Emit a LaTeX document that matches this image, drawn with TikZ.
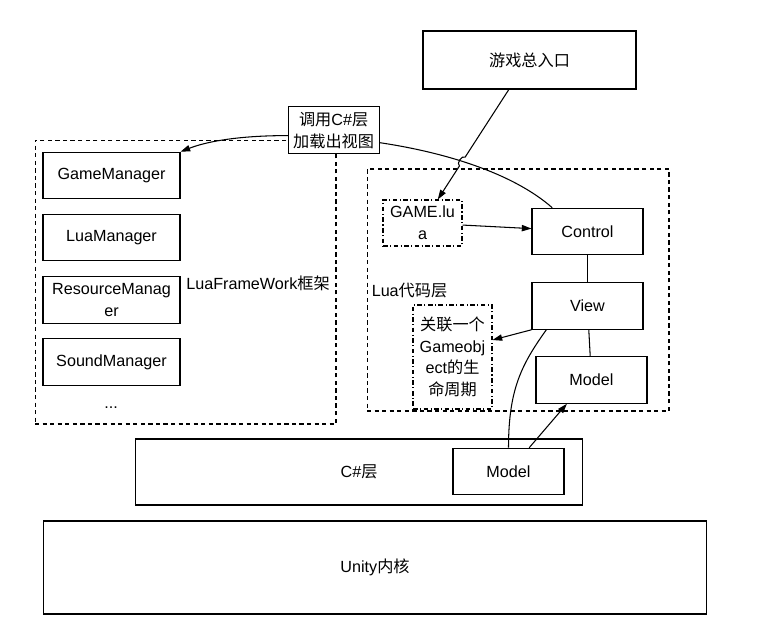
\documentclass[tikz,border=0pt]{standalone}
\usepackage{fontspec}
\setmainfont{Liberation Sans}
\newfontfamily\cjk{Noto Sans CJK SC}
\usetikzlibrary{arrows.meta, calc}

\begin{document}
\begin{tikzpicture}[
  x=0.02cm, y=-0.02cm,
  font=\fontsize{9.2pt}{12.3pt}\selectfont,
  box/.style = {
    rectangle, draw, line width=0.6pt,
    align=center, inner sep=1pt,
    minimum width=2.22cm, minimum height=0.93cm
  },
  mgr/.style = {box, minimum width=2.74cm},
  luabox/.style = {
    rectangle, draw, line width=0.6pt,
    align=center, inner sep=1pt,
    dash pattern=on 2.6pt off 1.4pt on 0.6pt off 1.4pt
  },
  zone/.style = {
    rectangle, draw, line width=0.6pt,
    dash pattern=on 2.4pt off 1.9pt
  },
  callout/.style = {
    rectangle, draw, fill=white, line width=0.6pt,
    align=center, inner sep=1pt,
    minimum width=1.82cm, minimum height=0.94cm
  },
  arrow/.style = {-{Triangle[length=5.5pt, width=3.6pt]}, line width=0.6pt},
  link/.style = {line width=0.6pt}
]
\useasboundingbox (0,0) rectangle (774,635);

% Entry
\node[box, minimum width=4.26cm, minimum height=1.16cm] (entry) at (529.5,60)
  {\cjk 游戏总入口};

% LuaFrameWork
\node[zone, minimum width=6.02cm, minimum height=5.68cm] (frame) at (185.5,282) {};
\node[mgr] (gm)  at (111.5,175.5) {GameManager};
\node[mgr] (lm)  at (111.5,237.5) {LuaManager};
\node[mgr] (rm)  at (111.5,300)   {ResourceManag\\er};
\node[mgr] (sm)  at (111.5,362)   {SoundManager};
\node (more) at (111,408) {...};
\node (framelabel) at (258,283) {LuaFrameWork{\cjk 框架}};

% Lua layer
\node[zone, minimum width=6.04cm, minimum height=4.84cm] (lualayer) at (518,290) {};
\node[luabox, minimum width=1.58cm, minimum height=0.92cm] (game) at (422.5,223)
  {GAME.lu\\a};
\node[box] (ctrl)   at (587.5,231.5) {Control};
\node[box] (view)   at (587.5,306)   {View};
\node[box] (modelu) at (591.5,380)   {Model};
\node (lualabel) at (409.5,291) {Lua{\cjk 代码层}};
\node[luabox, minimum width=1.58cm, minimum height=2.08cm] (life) at (452.5,357)
  {{\cjk 关联一个}\\Gameobj\\ect{\cjk 的生}\\{\cjk 命周期}};

% C# layer
\node[box, minimum width=8.96cm, minimum height=1.32cm] (cs) at (359,472)
  {C\#{\cjk 层}};
\node[box] (modelc) at (508.5,471.5) {Model};

% Unity
\node[box, minimum width=13.28cm, minimum height=1.86cm] (unity) at (375,567.5)
  {Unity{\cjk 内核}};

% connectors
\draw[arrow] (ctrl.146) .. controls +(-83,-73) and +(77,-30) .. (gm.north east)
  node[callout, pos=0.57, yshift=4.5pt] (call) {{\cjk 调用}C\#{\cjk 层}\\{\cjk 加载出视图}};

\coordinate (hopa) at ($(entry.235)!0.615!(game.57)$);
\coordinate (hopb) at ($(entry.235)!0.695!(game.57)$);
\draw[arrow] (entry.235) -- (hopa) to[bend right=90] (hopb) -- (game.57);

\draw[arrow] (game) -- (ctrl);
\draw[link] (ctrl) -- (view);
\draw[link] (view) -- (modelu);
\draw[arrow] (view.south west) -- (life.23);
\draw[link] (modelc.north) .. controls +(0,-58) and +(-25,35) .. (view.210);
\draw[arrow] (modelc.49) -- (modelu.224);

\end{tikzpicture}
\end{document}
